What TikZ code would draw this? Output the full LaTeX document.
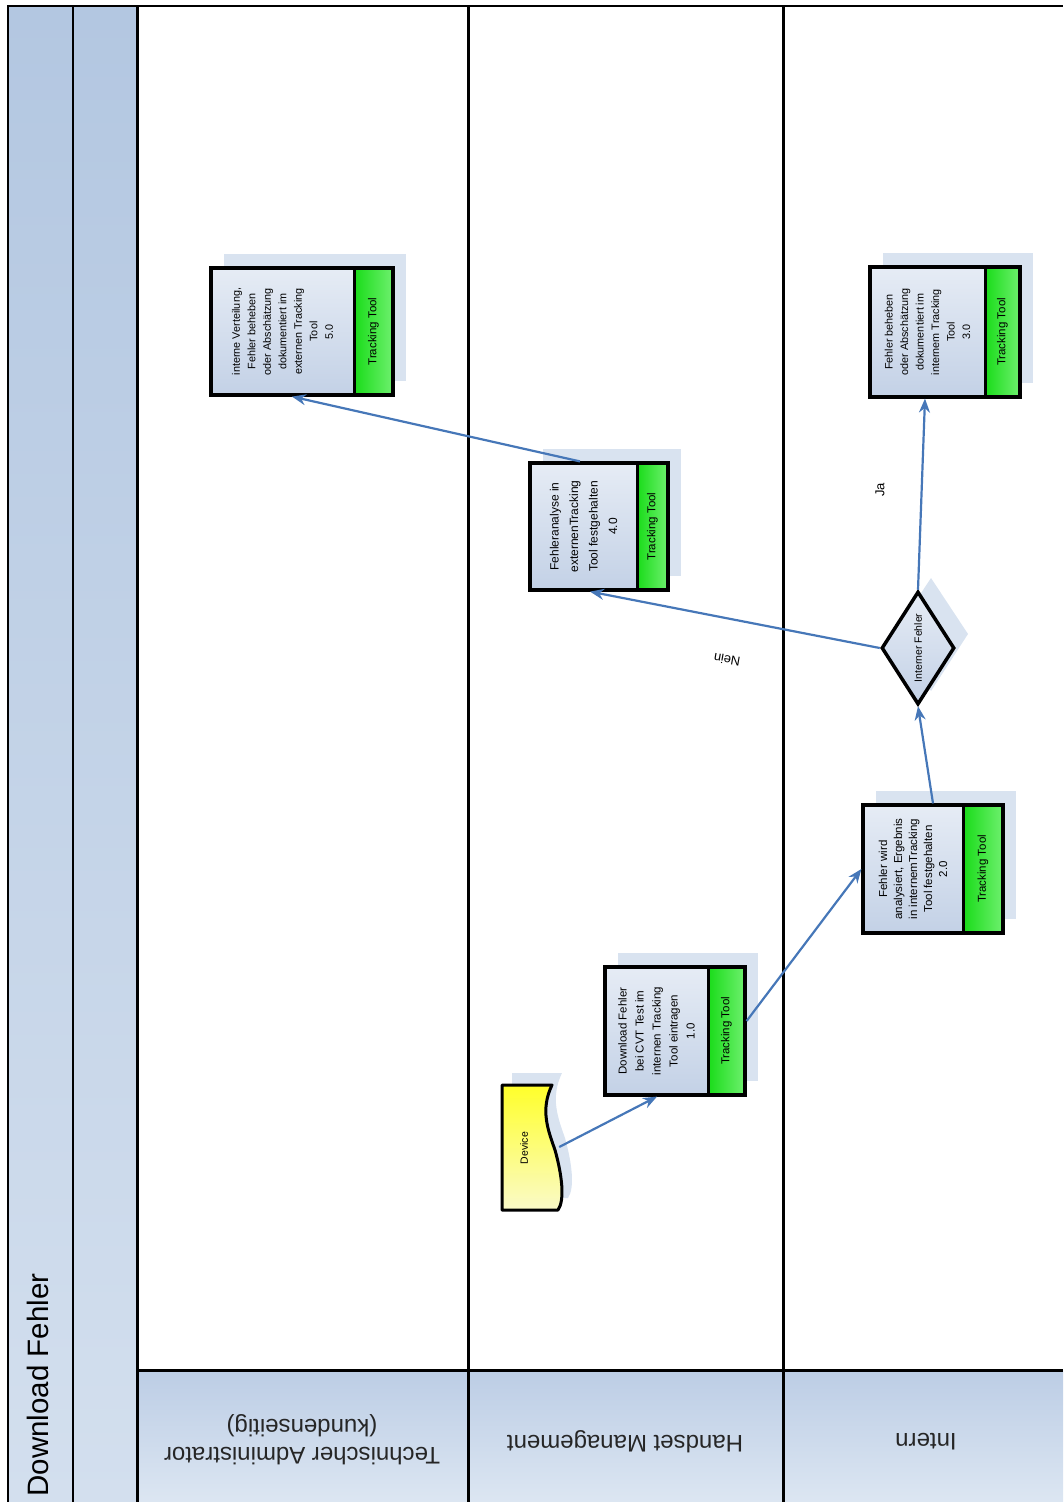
\documentclass[tikz,border=0pt]{standalone}
\usepackage{fontspec}
\setmainfont{Liberation Sans}
\usetikzlibrary{arrows.meta,shapes.geometric,calc}
\definecolor{flow}{HTML}{4677B8}
\definecolor{colA}{HTML}{B3C7E1}
\definecolor{colB}{HTML}{D3DFEE}
\definecolor{headA}{HTML}{BCCDE5}
\definecolor{headB}{HTML}{DCE6F2}
\definecolor{shadowc}{HTML}{D9E3F0}
\definecolor{boxA}{HTML}{E6ECF5}
\definecolor{boxB}{HTML}{C3D1E6}
\definecolor{grnA}{HTML}{19DC19}
\definecolor{grnB}{HTML}{6EF06E}
\definecolor{devA}{HTML}{FFFF2A}
\definecolor{devB}{HTML}{FAFAC8}
\tikzset{
  frameline/.style={draw=black, line width=2pt},
  laneline/.style={draw=black, line width=3pt},
  procframe/.style={draw=black, line width=3.2pt, inner sep=0pt, rectangle},
  flowarrow/.style={draw=flow, line width=2.2pt, -{Stealth[length=14pt,width=11pt]}},
  boxtext/.style={rotate=90, align=center, inner sep=0pt},
  striptext/.style={rotate=90, inner sep=0pt, font=\fontsize{11.5}{13}\selectfont},
  headtext/.style={rotate=180, align=center, font=\fontsize{24}{28}\selectfont, text=black!85},
  edgelabel/.style={font=\fontsize{13}{15}\selectfont, inner sep=1pt}
}
% name, left, top, strip x, right, bottom, font size, line skip, text
\newcommand\procbox[9]{%
  \fill[shadowc] (#2+13,#3-14) rectangle (#5+13,#6-14);
  \shade[top color=boxA, bottom color=boxB] (#2,#3) rectangle (#4,#6);
  \shade[left color=grnA, right color=grnB] (#4,#3) rectangle (#5,#6);
  \node[procframe, minimum width={#5-#2}, minimum height={#6-#3}] (#1) at ({(#2+#5)/2},{(#3+#6)/2}) {};
  \draw[black, line width=3pt] (#4,#3) -- (#4,#6);
  \node[boxtext, font=\fontsize{#7}{#8}\selectfont] (#1t) at ({(#2+#4)/2},{(#3+#6)/2}) {#9};
  \node[striptext] (#1s) at ({(#4+#5)/2},{(#3+#6)/2}) {Tracking Tool};
}
\begin{document}
\begin{tikzpicture}[x=1pt,y=-1pt]
\useasboundingbox (0,0) rectangle (1063,1502);
% title columns
\shade[top color=colA, bottom color=colB] (8,6) rectangle (73,1502);
\shade[top color=colA, bottom color=colB] (73,6) rectangle (137,1502);
% lane header cells
\shade[shading angle=30, top color=headA, bottom color=headB] (137,1370) rectangle (468,1502);
\shade[shading angle=30, top color=headA, bottom color=headB] (468,1370) rectangle (783,1502);
\shade[shading angle=30, top color=headA, bottom color=headB] (783,1370) rectangle (1063,1502);
% frame
\draw[frameline] (8,1502) -- (8,6) -- (1063,6);
\draw[frameline] (73,6) -- (73,1502);
\draw[laneline] (137,6) -- (137,1502);
\draw[laneline] (468,6) -- (468,1502);
\draw[laneline] (783,6) -- (783,1502);
\draw[laneline] (137,1370) -- (1063,1370);
% titles
\node[rotate=90, font=\fontsize{29.5}{31}\selectfont, inner sep=0pt] (title) at (38,1385) {Download Fehler};
\node[headtext] (h1) at (302,1440) {Technischer Administrator\\(kundenseitig)};
\node[headtext] (h2) at (625,1442) {Handset Management};
\node[headtext] (h3) at (926,1442) {Intern};
% process boxes
\procbox{b5}{211}{268}{354}{393}{395}{10.8}{15.5}{interne Verteilung,\\Fehler beheben\\oder Abschätzung\\dokumentiert im\\externen Tracking\\Tool\\5.0}
\procbox{b4}{530}{463}{637}{668}{590}{12}{19.5}{Fehleranalyse in\\externenTracking\\Tool festgehalten\\4.0}
\procbox{b3}{870}{267}{985}{1020}{397}{10.8}{15.5}{Fehler beheben\\oder Abschätzung\\dokumentiert im\\internem Tracking\\Tool\\3.0}
\procbox{b2}{863}{805}{963}{1003}{933}{11.5}{15}{Fehler wird\\analysiert, Ergebnis\\in internemTracking\\Tool festgehalten\\2.0}
\procbox{b1}{605}{967}{708}{745}{1095}{11.5}{17}{Download Fehler\\bei CVT Test im\\internen Tracking\\Tool eintragen\\1.0}
% decision
\fill[shadowc] (931,578) -- (968,634) -- (931,691) -- (894,634) -- cycle;
\node[diamond, draw=black, line width=3.5pt, minimum width=73, minimum height=113, inner sep=0pt, top color=boxA, bottom color=boxB] (d) at (918,648) {};
\node[rotate=90, font=\fontsize{10.5}{12}\selectfont, inner sep=0pt] (dt) at (918,648) {Interner Fehler};
% device (document shape)
\fill[shadowc] (512,1073) -- (562,1073) .. controls (550,1098) and (558,1118) .. (565,1138) .. controls (572,1163) and (575,1188) .. (568,1198) -- (512,1198) -- cycle;
\node[inner sep=0pt, minimum width=58, minimum height=125] (dev) at (530,1147) {};
\shade[top color=devA, bottom color=devB, draw=black, line width=3pt, line join=round]
  (502,1085) -- (552,1085) .. controls (540,1110) and (548,1130) .. (555,1150) .. controls (562,1175) and (565,1200) .. (558,1210) -- (502,1210) -- cycle;
\node[rotate=90, font=\fontsize{10.5}{12}\selectfont, inner sep=0pt] (devt) at (524,1148) {Device};
% connectors
\draw[flowarrow] (dev.east) -- ([xshift=-18pt]b1.south);
\draw[flowarrow] ([yshift=10pt]b1.east) -- (b2.west);
\draw[flowarrow] (b2.north) -- (d.south);
\draw[flowarrow] (d.west) -- ([xshift=-9pt]b4.south);
\draw[flowarrow] (d.north) -- ([xshift=-20pt]b3.south);
\draw[flowarrow] ([xshift=-19pt]b4.north) -- ([xshift=-10pt]b5.south);
% labels
\node[edgelabel, rotate=170] (nein) at (727,660) {Nein};
\node[edgelabel, rotate=90] (ja) at (880,490) {Ja};
\end{tikzpicture}
\end{document}
